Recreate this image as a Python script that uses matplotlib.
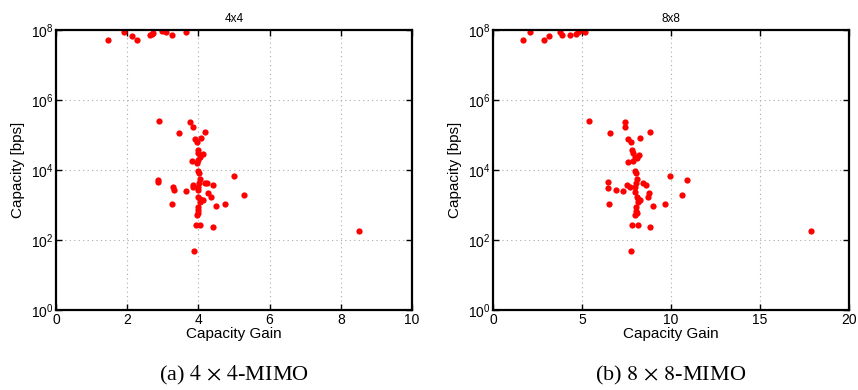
import numpy as np
import matplotlib
matplotlib.use("Agg")
import matplotlib.pyplot as plt
from matplotlib.ticker import NullLocator, FixedLocator

plt.rcParams['font.family'] = ['Liberation Sans', 'DejaVu Sans']
plt.rcParams['mathtext.fontset'] = 'custom'
plt.rcParams['mathtext.rm'] = 'Liberation Sans'
plt.rcParams['mathtext.it'] = 'Liberation Sans:italic'

# 4x4 MIMO: capacity gain vs capacity (log10 of bps)
gain_4x4 = [1.45, 1.90, 2.14, 2.27, 2.64, 2.69, 2.73, 2.97, 3.06, 3.09, 3.25, 3.65,
            2.90, 3.75, 3.84, 3.46, 4.19, 4.07, 3.90, 3.95, 3.98, 4.00, 4.14, 4.04,
            4.00, 3.83, 3.95, 4.00, 4.02, 2.87, 2.86, 4.99, 4.04, 4.03, 4.00, 4.00,
            4.23, 4.19, 4.42, 3.84, 3.84, 3.30, 3.32, 3.64, 5.28, 4.28, 4.34, 4.00,
            4.04, 4.14, 4.04, 3.26, 4.76, 4.49, 3.98, 4.00, 3.95, 4.00, 3.93, 4.04,
            4.42, 3.88, 8.50]
logcap_4x4 = [7.71, 7.93, 7.82, 7.72, 7.86, 7.89, 7.91, 7.98, 7.98, 7.93, 7.85, 7.95,
              5.41, 5.36, 5.22, 5.07, 5.09, 4.92, 4.88, 4.81, 4.57, 4.48, 4.46, 4.38,
              4.29, 4.25, 4.19, 3.98, 3.92, 3.71, 3.67, 3.83, 3.73, 3.64, 3.52, 3.43,
              3.64, 3.62, 3.57, 3.57, 3.51, 3.51, 3.43, 3.41, 3.29, 3.33, 3.22, 3.24,
              3.17, 3.14, 3.10, 3.04, 3.04, 2.97, 2.95, 2.86, 2.71, 2.76, 2.44, 2.44,
              2.38, 1.69, 2.26]

# 8x8 MIMO
gain_8x8 = [1.69, 2.08, 2.87, 3.13, 3.76, 3.88, 4.33, 4.66, 4.81, 4.75, 5.17,
            5.39, 7.42, 7.40, 6.59, 8.80, 8.27, 7.60, 7.73, 7.79, 7.88, 8.22, 7.98,
            7.88, 7.60, 8.07, 7.98, 8.02, 9.94, 10.88, 6.48, 6.45, 8.07, 8.04, 7.98,
            7.98, 8.42, 8.58, 7.51, 7.70, 6.89, 7.32, 10.60, 8.75, 8.69, 8.07, 8.16,
            8.26, 8.13, 6.50, 9.64, 8.99, 8.04, 8.04, 7.98, 8.07, 7.79, 8.13, 8.82,
            7.73, 17.87]
logcap_8x8 = [7.71, 7.93, 7.71, 7.83, 7.93, 7.86, 7.86, 7.90, 7.98, 7.95, 7.95,
              5.41, 5.36, 5.22, 5.07, 5.09, 4.92, 4.88, 4.81, 4.57, 4.48, 4.43, 4.36,
              4.27, 4.24, 4.33, 3.98, 3.92, 3.83, 3.71, 3.67, 3.48, 3.73, 3.62, 3.51,
              3.38, 3.64, 3.57, 3.57, 3.51, 3.43, 3.41, 3.29, 3.33, 3.22, 3.24, 3.17,
              3.14, 3.10, 3.04, 3.04, 2.97, 2.93, 2.84, 2.71, 2.76, 2.44, 2.44, 2.38,
              1.69, 2.26]

panels = [
    (gain_4x4, logcap_4x4, "4x4", [0, 2, 4, 6, 8, 10], r"(a) $4\,\times\,4$-MIMO"),
    (gain_8x8, logcap_8x8, "8x8", [0, 5, 10, 15, 20], r"(b) $8\,\times\,8$-MIMO"),
]

fig = plt.figure(figsize=(8.58, 3.9), dpi=100)
lefts = [56 / 858, 493 / 858]

for left, (gain, logcap, title, xticks, caption) in zip(lefts, panels):
    ax = fig.add_axes([left, 0.205, 356 / 858, 0.718])
    cap = 10 ** np.array(logcap)
    ax.plot(gain, cap, 'o', color='red', markersize=4.5, markeredgewidth=0)
    ax.set_yscale('log')
    ax.set_ylim(1, 1e8)
    ax.set_xlim(xticks[0], xticks[-1])
    ax.xaxis.set_major_locator(FixedLocator(xticks))
    ax.yaxis.set_major_locator(FixedLocator([1, 1e2, 1e4, 1e6, 1e8]))
    ax.yaxis.set_minor_locator(NullLocator())
    ax.grid(True, linestyle=(0, (1, 3)), color='#aaaaaa', linewidth=0.8)
    ax.tick_params(direction='in', length=4, width=1, labelsize=10,
                   top=True, right=True, pad=2)
    for s in ax.spines.values():
        s.set_linewidth(1.6)
    ax.set_title(title, fontsize=8.5, pad=6)
    ax.set_xlabel("Capacity Gain", fontsize=11, labelpad=0)
    ax.set_ylabel("Capacity [bps]", fontsize=11, labelpad=4)
    fig.text(left + 178 / 858, 0.038, caption, ha='center', va='center',
             fontsize=16, family='Liberation Serif', math_fontfamily='stix')

fig.savefig("out.png", dpi=100)
